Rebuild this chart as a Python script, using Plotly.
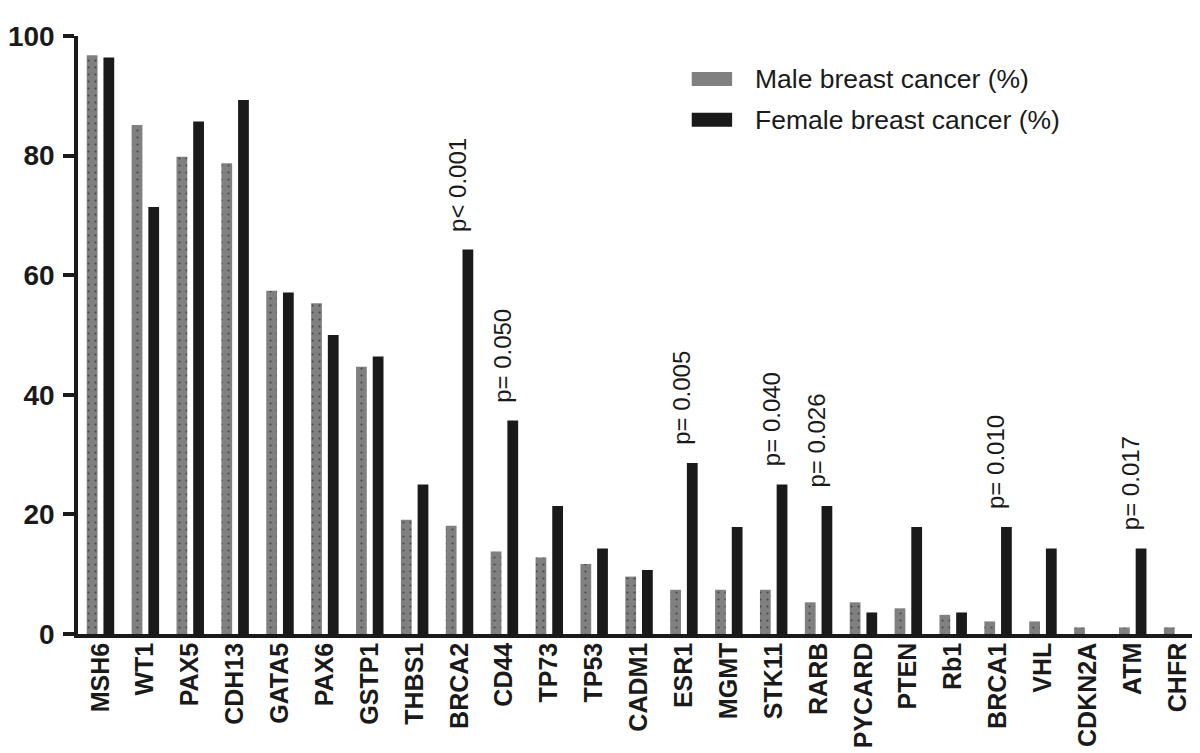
import plotly.graph_objects as go

genes = ["MSH6", "WT1", "PAX5", "CDH13", "GATA5", "PAX6", "GSTP1", "THBS1", "BRCA2",
         "CD44", "TP73", "TP53", "CADM1", "ESR1", "MGMT", "STK11", "RARB", "PYCARD",
         "PTEN", "Rb1", "BRCA1", "VHL", "CDKN2A", "ATM", "CHFR"]
male_pct = [96.8, 85.1, 79.8, 78.7, 57.4, 55.3, 44.7, 19.1, 18.1, 13.8, 12.8, 11.7, 9.6,
            7.4, 7.4, 7.4, 5.3, 5.3, 4.3, 3.2, 2.1, 2.1, 1.1, 1.1, 1.1]
female_pct = [96.4, 71.4, 85.7, 89.3, 57.1, 50.0, 46.4, 25.0, 64.3, 35.7, 21.4, 14.3, 10.7,
              28.6, 17.9, 25.0, 21.4, 3.6, 17.9, 3.6, 17.9, 14.3, 0.0, 14.3, 0.0]
pval_genes = ["BRCA2", "CD44", "ESR1", "STK11", "RARB", "BRCA1", "ATM"]
pval_texts = ["p< 0.001", "p= 0.050", "p= 0.005", "p= 0.040", "p= 0.026", "p= 0.010", "p= 0.017"]
y_ticks = [0, 20, 40, 60, 80, 100]
series_names = ["Male breast cancer (%)", "Female breast cancer (%)"]

INK = "#1a1a1a"
GRAY = "#808080"
FONT = "Liberation Sans"

fig = go.Figure()
fig.add_trace(go.Bar(
    x=genes, y=male_pct, name=series_names[0], width=0.24, offset=-0.305,
    marker=dict(color=GRAY, line=dict(width=0),
                pattern=dict(shape=".", fgcolor="#111111", bgcolor=GRAY,
                             size=7, solidity=0.08, fillmode="overlay")),
    showlegend=False,
))
fig.add_trace(go.Bar(
    x=genes, y=female_pct, name=series_names[1], width=0.24, offset=0.067,
    marker=dict(color=INK, line=dict(width=0)),
    showlegend=False,
))

# p-value annotations above female bars
for g, t in zip(pval_genes, pval_texts):
    v = female_pct[genes.index(g)]
    fig.add_annotation(x=g, y=v, xref="x", yref="y", text=t, textangle=-90,
                       showarrow=False, xanchor="center", yanchor="bottom",
                       xshift=-2, yshift=16,
                       font=dict(family=FONT, size=24, color=INK))

# legend drawn manually (wide swatches like the original)
leg_y = [0.928, 0.860]
for i, (name, col) in enumerate(zip(series_names, [GRAY, INK])):
    fig.add_shape(type="rect", xref="paper", yref="paper",
                  x0=0.547, x1=0.583, y0=leg_y[i] - 0.0117, y1=leg_y[i] + 0.0117,
                  fillcolor=col, line=dict(width=0))
    fig.add_annotation(x=0.602, y=leg_y[i], xref="paper", yref="paper", text=name,
                       showarrow=False, xanchor="left", yanchor="middle",
                       font=dict(family=FONT, size=26.5, color=INK))

fig.update_layout(
    width=1200, height=753,
    margin=dict(l=70, r=8, t=28, b=127),
    paper_bgcolor="white", plot_bgcolor="white",
    barmode="overlay",
    xaxis=dict(
        type="category", range=[-0.5, 24.5], automargin=False,
        showline=True, linecolor=INK, linewidth=3.5,
        ticks="", tickangle=-90, showgrid=False, zeroline=False,
        ticklabelstandoff=-5,
        tickfont=dict(family=FONT, size=25, color=INK, weight="bold"),
    ),
    yaxis=dict(
        range=[0, 100], tickvals=y_ticks, automargin=False,
        showline=True, linecolor=INK, linewidth=3.5,
        ticks="outside", ticklen=11, tickwidth=3.5, tickcolor=INK,
        showgrid=False, zeroline=False, ticklabelstandoff=3,
        tickfont=dict(family=FONT, size=28, color=INK, weight="bold"),
    ),
)

fig.write_html("out.html")
